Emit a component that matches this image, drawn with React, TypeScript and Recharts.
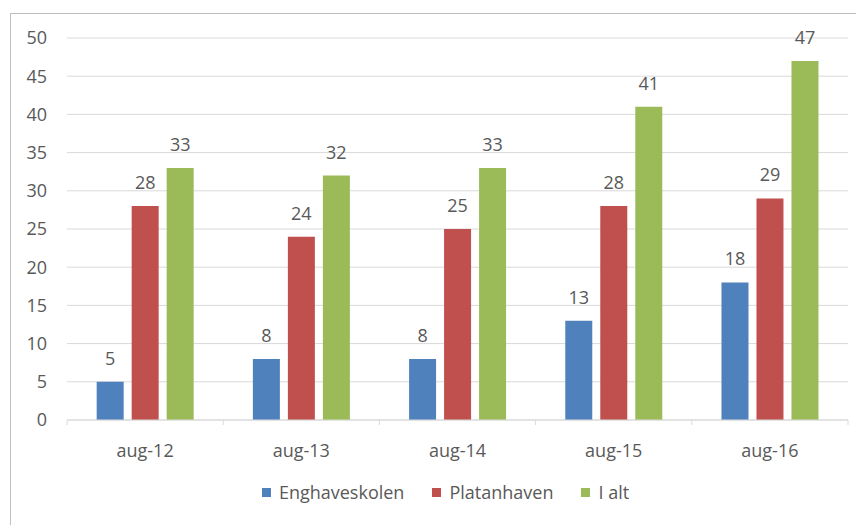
import React from "react";
import { BarChart, Bar, XAxis, YAxis, CartesianGrid, Legend, LabelList } from "recharts";

const categories = ["aug-12", "aug-13", "aug-14", "aug-15", "aug-16"];
const enghaveskolen = [5, 8, 8, 13, 18];
const platanhaven = [28, 24, 25, 28, 29];
const iAlt = [33, 32, 33, 41, 47];
const yTicks = [0, 5, 10, 15, 20, 25, 30, 35, 40, 45, 50];

const seriesNames = ["Enghaveskolen", "Platanhaven", "I alt"];
const seriesColors = ["#4F81BD", "#C0504D", "#9BBB59"];

const data = categories.map((c, i) => ({
  name: c,
  Enghaveskolen: enghaveskolen[i],
  Platanhaven: platanhaven[i],
  "I alt": iAlt[i],
}));

const FONT = "'Open Sans', sans-serif";
const TEXT = "#595959";
const GRID = "#d9d9d9";
const TICK_MARGIN = 24;

const CatTick = (props: any) => {
  const { x, y, payload, index, visibleTicksCount } = props;
  const off = payload && typeof payload.offset === "number" ? payload.offset : 0;
  const axisY = y - TICK_MARGIN;
  const isLast = index === (visibleTicksCount ?? categories.length) - 1;
  return (
    <g>
      <line x1={x - off} x2={x - off} y1={axisY} y2={axisY + 5} stroke={GRID} />
      {isLast && <line x1={x + off} x2={x + off} y1={axisY} y2={axisY + 5} stroke={GRID} />}
      <text x={x} y={y} dy="0.71em" textAnchor="middle" fill={TEXT} fontSize={18} fontFamily={FONT}>
        {payload.value}
      </text>
    </g>
  );
};

const LegendContent = () => (
  <div
    style={{
      display: "flex",
      justifyContent: "center",
      alignItems: "center",
      height: 30,
      paddingLeft: 32,
      fontFamily: FONT,
      fontSize: 18,
      color: TEXT,
    }}
  >
    {seriesNames.map((n, i) => (
      <div key={n} style={{ display: "flex", alignItems: "center", marginRight: i < 2 ? 28 : 0 }}>
        <span style={{ display: "inline-block", width: 9, height: 9, background: seriesColors[i], marginRight: 8 }} />
        <span>{n}</span>
      </div>
    ))}
  </div>
);

export default function App() {
  return (
    <div
      style={{
        marginLeft: 2,
        marginTop: 5,
        borderTop: "1px solid #bfbfbf",
        borderLeft: "1px solid #bfbfbf",
        width: 853,
        height: 511,
        background: "#fff",
      }}
    >
      <BarChart
        width={853}
        height={511}
        data={data}
        margin={{ top: 24, right: 16, left: 0, bottom: 18 }}
        barCategoryGap="19%"
        barGap={8}
      >
        <CartesianGrid vertical={false} stroke={GRID} />
        <XAxis
          dataKey="name"
          height={57}
          axisLine={{ stroke: GRID }}
          tickLine={false}
          tickSize={0}
          tickMargin={TICK_MARGIN}
          tick={<CatTick />}
          interval={0}
        />
        <YAxis
          domain={[0, 50]}
          ticks={yTicks}
          width={56}
          axisLine={false}
          tickLine={false}
          tickSize={0}
          tickMargin={20}
          tick={{ fill: TEXT, fontSize: 18, fontFamily: FONT }}
          interval={0}
        />
        <Legend verticalAlign="bottom" content={<LegendContent />} />
        {seriesNames.map((n, i) => (
          <Bar key={n} dataKey={n} fill={seriesColors[i]} isAnimationActive={false}>
            <LabelList dataKey={n} position="top" offset={17} fill={TEXT} fontSize={18} fontFamily={FONT} />
          </Bar>
        ))}
      </BarChart>
    </div>
  );
}
